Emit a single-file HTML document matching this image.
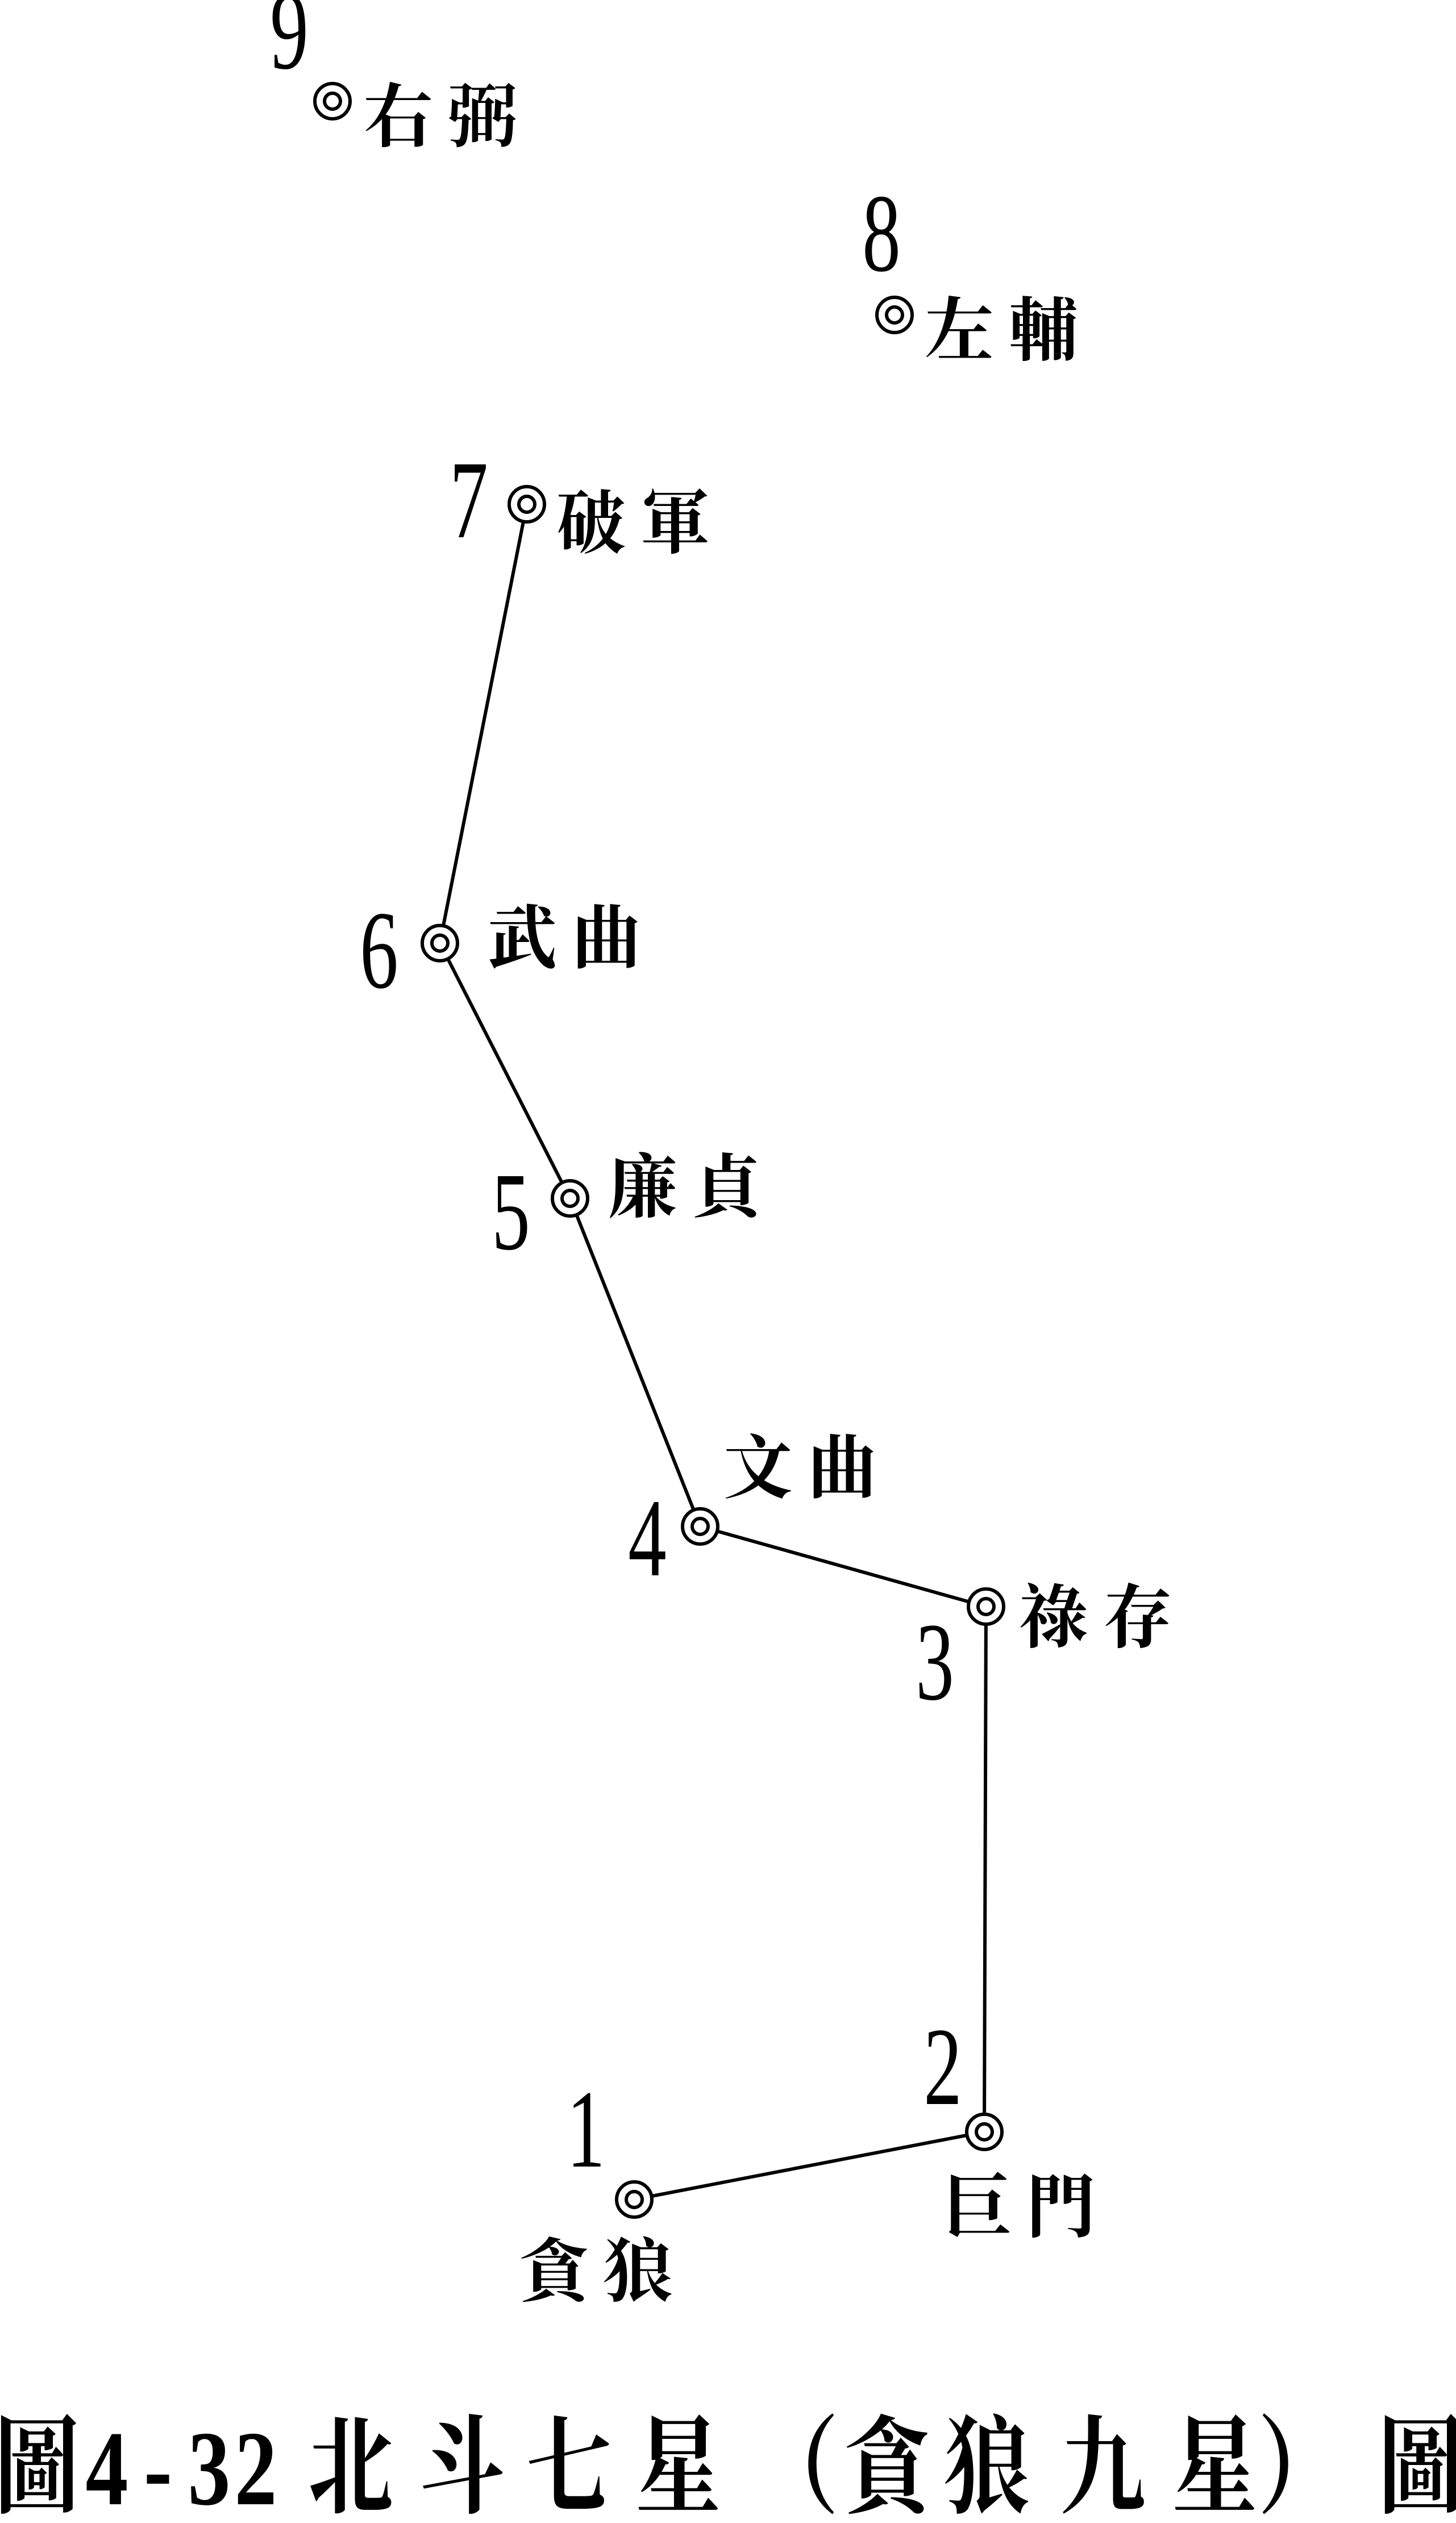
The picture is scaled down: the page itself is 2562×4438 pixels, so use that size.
<!DOCTYPE html>
<html><head><meta charset="utf-8"><style>
html,body{margin:0;padding:0;background:#fff;}
svg{display:block;}
.d{font-family:"Liberation Serif",serif;font-size:135px;fill:#000;}
.c{font-family:"Liberation Serif","Noto Serif CJK SC","Noto Sans CJK TC",serif;font-size:122px;fill:#000;font-weight:bold;letter-spacing:26px;}
.t{font-family:"Liberation Serif","Noto Serif CJK SC","Noto Sans CJK TC",serif;font-size:150px;fill:#000;font-weight:bold;text-anchor:middle;}
</style></head><body>
<svg width="2562" height="4438" viewBox="0 0 2562 4438" xmlns="http://www.w3.org/2000/svg">
<g stroke="#000" stroke-width="6" fill="none">
<line x1="927" y1="887" x2="774" y2="1659"/>
<line x1="774" y1="1659" x2="1003" y2="2108"/>
<line x1="1003" y1="2108" x2="1232" y2="2685"/>
<line x1="1232" y1="2685" x2="1735" y2="2826"/>
<line x1="1735" y1="2826" x2="1732" y2="3750"/>
<line x1="1732" y1="3750" x2="1116" y2="3869"/>
</g>
<g stroke="#000" stroke-width="6" fill="#fff">
<circle cx="585" cy="178" r="31"/><circle cx="1574" cy="554" r="31"/><circle cx="927" cy="887" r="31"/>
<circle cx="774" cy="1659" r="31"/><circle cx="1003" cy="2108" r="31"/><circle cx="1232" cy="2685" r="31"/>
<circle cx="1735" cy="2826" r="31"/><circle cx="1732" cy="3750" r="31"/><circle cx="1116" cy="3869" r="31"/>
</g>
<g stroke="#000" stroke-width="6" fill="none">
<circle cx="585" cy="178" r="14"/><circle cx="1574" cy="554" r="14"/><circle cx="927" cy="887" r="14"/>
<circle cx="774" cy="1659" r="14"/><circle cx="1003" cy="2108" r="14"/><circle cx="1232" cy="2685" r="14"/>
<circle cx="1735" cy="2826" r="14"/><circle cx="1732" cy="3750" r="14"/><circle cx="1116" cy="3869" r="14"/>
</g>
<g class="d" text-anchor="middle">
<text transform="translate(509,120) scale(1,1.45)">9</text>
<text transform="translate(1551,476) scale(1,1.45)">8</text>
<text transform="translate(825,945) scale(1,1.45)">7</text>
<text transform="translate(667,1737) scale(1,1.45)">6</text>
<text transform="translate(899,2197) scale(1,1.45)">5</text>
<text transform="translate(1139,2771) scale(1,1.45)">4</text>
<text transform="translate(1645,2989) scale(1,1.45)">3</text>
<text transform="translate(1659,3701) scale(1,1.45)">2</text>
<text transform="translate(1031,3811) scale(1,1.45)">1</text>
</g>
<g class="c">
<text x="640" y="248">右弼</text>
<text x="1627" y="624">左輔</text>
<text x="979" y="963">破軍</text>
<text x="858" y="1693">武曲</text>
<text x="1070" y="2131">廉貞</text>
<text x="1273" y="2625">文曲</text>
<text x="1793" y="2888">祿存</text>
<text x="1658" y="3925">巨門</text>
<text x="914" y="4038">貪狼</text>
</g>
<g transform="translate(0,4405) scale(1,1.25)" class="t">
<text x="65" y="0">圖</text>
<text x="188" y="0">4</text>
<text x="278" y="0">-</text>
<text x="368" y="0">3</text>
<text x="450" y="0">2</text>
<text x="617" y="0">北</text>
<text x="813" y="0">斗</text>
<text x="1001" y="0">七</text>
<text x="1193" y="0">星</text>
<text x="1401" y="0">（</text>
<text x="1561" y="0">貪</text>
<text x="1737" y="0">狼</text>
<text x="1941" y="0">九</text>
<text x="2137" y="0">星</text>
<text x="2288" y="0">）</text>
<text x="2500" y="0">圖</text>
</g>
</svg>
</body></html>
